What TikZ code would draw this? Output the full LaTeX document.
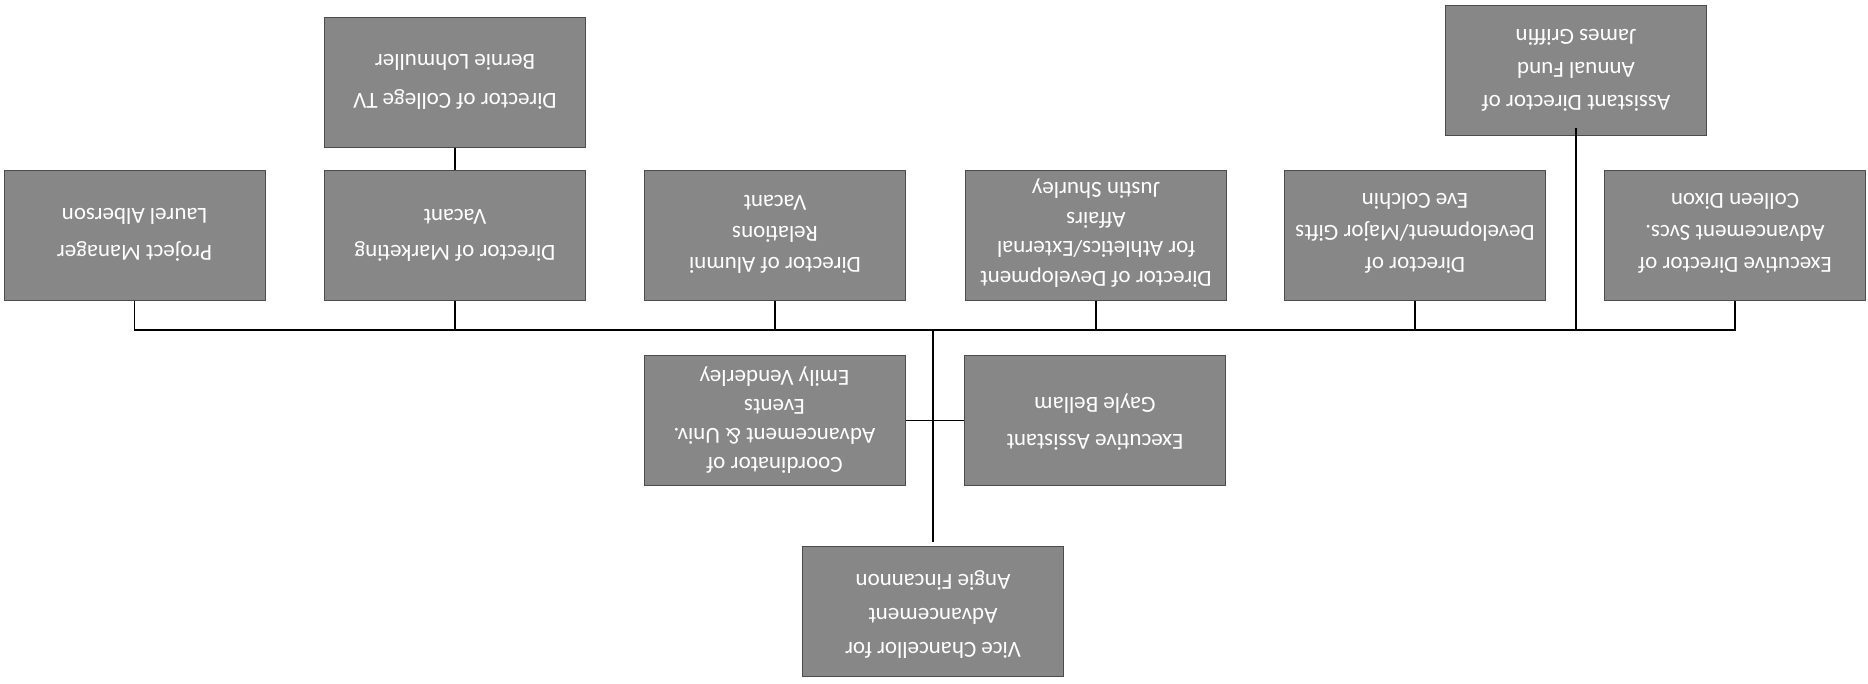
\documentclass[tikz,border=0pt]{standalone}
\usepackage{fontspec}
\setmainfont{Carlito}
\begin{document}
\begin{tikzpicture}[x=1pt,y=-1pt,
  box/.style={draw=black!70,line width=1pt,fill=black!47,minimum width=261pt,minimum height=130pt,inner sep=0pt},
  lbl/.style={rotate=180,align=center,text=white,font=\fontsize{23}{#1}\selectfont,inner sep=0pt},
  lbl/.default=32,
  conn/.style={draw=black,line width=1.8pt}]
\useasboundingbox (0,0) rectangle (1868,683);
% boxes
\node[box] (pm) at (134.5,235) {};
\node[box] (mk) at (455,235) {};
\node[box] (al) at (775,235) {};
\node[box] (at) at (1096,235) {};
\node[box] (mg) at (1415,235) {};
\node[box] (ed) at (1735,235) {};
\node[box] (tv) at (455,82) {};
\node[box] (ad) at (1576,70) {};
\node[box] (co) at (774.5,420.5) {};
\node[box] (ea) at (1095,420.5) {};
\node[box] (vc) at (933,611) {};
% texts
\node[lbl=37] (tpm) at (134.5,235) {Project Manager\\Laurel Alberson};
\node[lbl=36] (tmk) at (455,235) {Director of Marketing\\Vacant};
\node[lbl=31] (tal) at (775,234) {Director of Alumni\\Relations\\Vacant};
\node[lbl=29.5] (tat) at (1096,233) {Director of Development\\for Athletics/External\\Affairs\\Justin Shurley};
\node[lbl=32] (tmg) at (1415,233) {Director of\\Development/Major Gifts\\Eve Colchin};
\node[lbl=32] (ted) at (1735,233) {Executive Director of\\Advancement Svcs.\\Colleen Dixon};
\node[lbl=39] (ttv) at (455,82) {Director of College TV\\Bernie Lohmuller};
\node[lbl=33] (tad) at (1576,70) {Assistant Director of\\Annual Fund\\James Griffin};
\node[lbl=29] (tco) at (774.5,420) {Coordinator of\\Advancement \& Univ.\\Events\\Emily Venderley};
\node[lbl=37] (tea) at (1095,422) {Executive Assistant\\Gayle Bellam};
\node[lbl=34] (tvc) at (933,614) {Vice Chancellor for\\Advancement\\Angie Fincannon};
% connectors
\coordinate (bl) at (134.5,330);
\coordinate (br) at (1735,330);
\coordinate (bc) at (933,330);
\draw[conn] (pm.south) -- (bl) -- (br) -- (ed.south);
\foreach \n in {mk,al,at,mg} \draw[conn] (\n.south) -- (\n.south |- bc);
\draw[conn] ([yshift=8pt]ad.south) -- (ad.south |- bc);
\draw[conn] (tv.south) -- (mk.north);
\draw[conn] (bc) -- ([yshift=4pt]vc.north);
\draw[conn] (co.east) -- (ea.west);
\end{tikzpicture}
\end{document}
